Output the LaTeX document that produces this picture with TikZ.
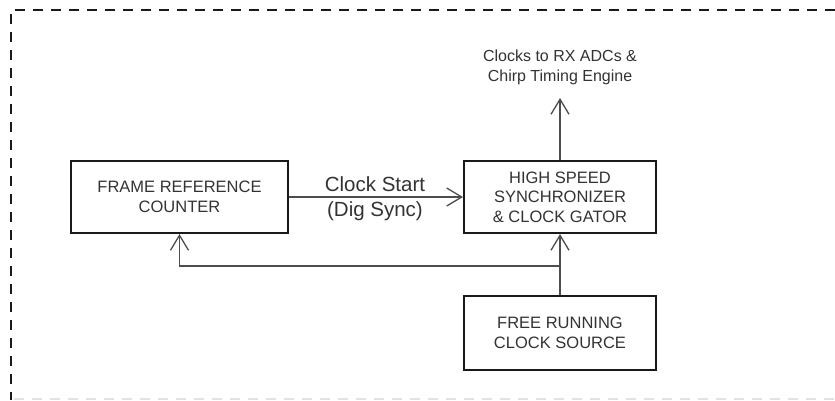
\documentclass[tikz,border=0pt]{standalone}
\usepackage{fontspec}
\setmainfont{Liberation Sans}
\usetikzlibrary{arrows.meta}
\definecolor{txt}{HTML}{333333}
\definecolor{edge}{HTML}{1A1A1A}
\definecolor{wire}{HTML}{4D4D4D}
\definecolor{faint}{HTML}{E2E2E2}
\tikzset{
  blockbox/.style={draw=edge, line width=2pt, rectangle, align=center, text=txt,
    font=\fontsize{16.5}{19.5}\selectfont, inner sep=0pt},
  wirestyle/.style={draw=wire, line width=1.3pt},
  tip/.style={-{Straight Barb[length=15pt,width=18pt,line width=1.3pt]}},
  frameline/.style={line width=2pt, dash pattern=on 10pt off 8pt},
  lbl/.style={text=txt, align=center, inner sep=0pt}
}
\begin{document}
\begin{tikzpicture}[x=1pt,y=-1pt]
\useasboundingbox (0,0) rectangle (835,400);
% dashed enclosure
\coordinate (tl) at (11,10);
\coordinate (tr) at (835,10);
\coordinate (bl) at (11,400);
\coordinate (bl2) at (14,399);
\coordinate (br) at (835,399);
\draw[frameline, draw=edge] (tr) -- (tl) -- (bl);
\draw[frameline, draw=faint, line width=1.5pt] (bl2) -- (br);
% blocks
\node[blockbox, minimum width=217pt, minimum height=72pt] (frame) at (179.5,197) {FRAME REFERENCE\\COUNTER};
\node[blockbox, minimum width=192pt, minimum height=72pt] (sync) at (560,197) {HIGH SPEED\\SYNCHRONIZER\\\& CLOCK GATOR};
\node[blockbox, minimum width=192pt, minimum height=74pt] (free) at (560,333) {FREE RUNNING\\CLOCK SOURCE};
% output label
\node[lbl, font=\fontsize{16}{20}\selectfont] (outlbl) at (560,67) {Clocks to RX ADCs \&\\Chirp Timing Engine};
\coordinate (outtip) at (560,98);
\draw[wirestyle, tip] (sync.north) -- (outtip);
% clock start
\draw[wirestyle, tip] (frame.east) -- (sync.west);
\node[lbl, font=\fontsize{20.5}{24}\selectfont] (cs1) at (375,184) {Clock Start};
\node[lbl, font=\fontsize{20.5}{24}\selectfont] (cs2) at (375,211) {(Dig Sync)};
% feedback
\coordinate (junc) at (560,266);
\coordinate (corner) at (frame.south |- junc);
\draw[wirestyle, tip] (free.north) -- (sync.south);
\draw[wirestyle, tip] (junc) -- (corner) -- (frame.south);
\end{tikzpicture}
\end{document}
